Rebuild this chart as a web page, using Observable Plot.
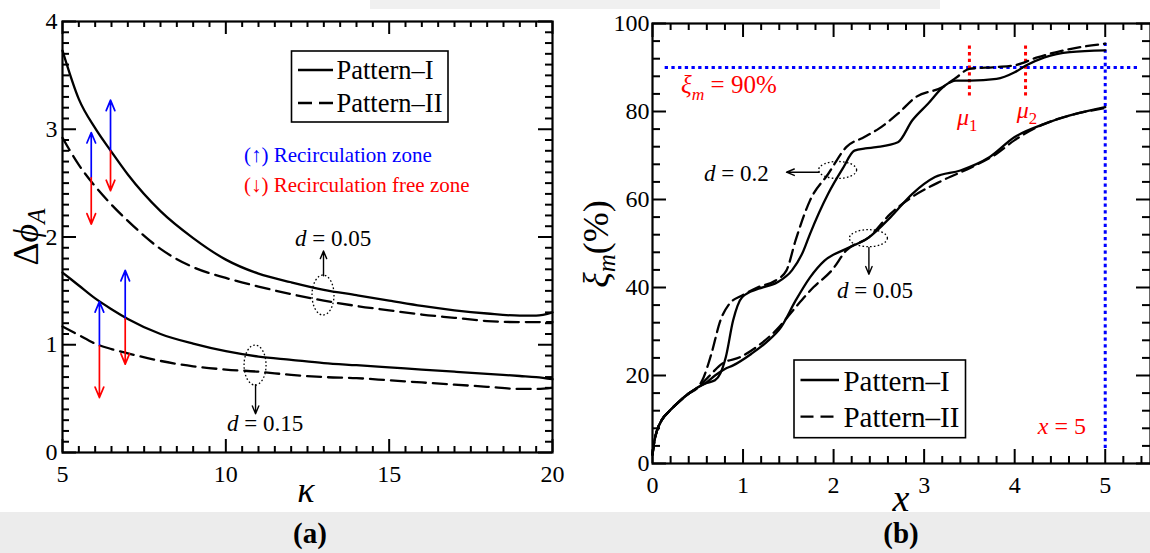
<!DOCTYPE html>
<html>
<head>
<meta charset="utf-8">
<script src="https://cdn.jsdelivr.net/npm/d3@7"></script>
<script src="https://cdn.jsdelivr.net/npm/@observablehq/plot@0.6"></script>
<style>
html,body{margin:0;padding:0;background:#fff}
#page{position:relative;width:1150px;height:553px;overflow:hidden;font-family:"Liberation Serif",serif}
.abs{position:absolute}
#page svg, #page svg text, #page svg tspan{font-family:"Liberation Serif","DejaVu Serif",serif !important}
</style>
</head>
<body>
<div id="page">
  <div class="abs" style="left:0;top:512px;width:1150px;height:41px;background:#ececec"></div>
  <div class="abs" style="left:370px;top:0;width:570px;height:9px;background:#f0f0f0"></div>
  <div id="pa" class="abs" style="left:0;top:0"></div>
  <div id="pb" class="abs" style="left:575px;top:0"></div>
  <svg id="ov" class="abs" style="left:0;top:0" width="1150" height="553"></svg>
</div>
<script>
// ================= Panel (a) data: Δφ_A vs κ =================
const kappa            = [5, 5.5, 6, 6.5, 7, 8, 9, 10, 11, 12, 13, 14, 15, 16, 17, 18, 19, 19.5, 20];
const dphi_d005_patI   = [3.73, 3.28, 3.01, 2.79, 2.58, 2.24, 1.99, 1.79, 1.66, 1.58, 1.51, 1.46, 1.41, 1.36, 1.32, 1.29, 1.27, 1.27, 1.30];
const dphi_d005_patII  = [2.92, 2.67, 2.47, 2.30, 2.15, 1.89, 1.72, 1.62, 1.54, 1.47, 1.41, 1.36, 1.32, 1.28, 1.25, 1.22, 1.21, 1.21, 1.21];
const dphi_d015_patI   = [1.67, 1.55, 1.43, 1.33, 1.24, 1.10, 1.01, 0.94, 0.89, 0.86, 0.83, 0.81, 0.79, 0.77, 0.75, 0.73, 0.71, 0.70, 0.68];
const dphi_d015_patII  = [1.17, 1.09, 1.01, 0.96, 0.92, 0.85, 0.80, 0.77, 0.75, 0.72, 0.70, 0.69, 0.67, 0.65, 0.63, 0.61, 0.59, 0.59, 0.60];
const aTickX = [5, 10, 15, 20];
const aTickY = [0, 1, 2, 3, 4];
// recirculation zone arrows (κ, split value, top of blue, bottom of red)
const zoneK    = [5.88, 6.47, 6.13, 6.92];
const zoneMid  = [2.55, 2.80, 0.99, 1.24];
const zoneUp   = [2.97, 3.27, 1.40, 1.69];
const zoneDown = [2.12, 2.43, 0.51, 0.82];
// callouts (a)
const aEllK = [12.99, 10.91];
const aEllV = [1.457, 0.807];
const aCallFrom = [1.64, 0.63];
const aCallTo   = [1.87, 0.36];
const aLabelK = [12.13, 10.05];
const aLabelV = [1.986, 0.269];
const aLabelD = ["0.05", "0.15"];
const zoneTextK = 10.57;
const zoneTextV = [2.756, 2.478];
const zoneText  = ["(\u2191) Recirculation zone", "(\u2193) Recirculation free zone"];

// ================= Panel (b) data: ξ_m(%) vs x =================
const x_d02_I  = [0, 0.02, 0.05, 0.1, 0.2, 0.3, 0.4, 0.5, 0.6, 0.69, 0.75, 0.81, 0.89, 0.99, 1.17, 1.38, 1.54, 1.66, 1.74, 1.94, 2.1, 2.23, 2.35, 2.47, 2.71, 2.87, 3.04, 3.23, 3.35, 3.51, 3.8, 4.0, 4.13, 4.33, 4.61, 5.0];
const y_d02_I  = [2, 5, 7.5, 9.8, 12.2, 14.2, 15.9, 17.3, 18.3, 18.9, 20.5, 24.2, 32.5, 37.8, 39.7, 41.2, 43.9, 48, 52.2, 61.3, 67, 71.1, 71.6, 71.9, 73.0, 78, 81.7, 85.9, 87.0, 87.0, 87.4, 88.9, 90.5, 92.3, 93.5, 93.9];
const x_d02_II = [0, 0.02, 0.05, 0.1, 0.2, 0.3, 0.4, 0.5, 0.55, 0.65, 0.75, 0.85, 0.99, 1.17, 1.36, 1.48, 1.58, 1.74, 1.94, 2.14, 2.34, 2.5, 2.71, 2.91, 3.2, 3.36, 3.5, 3.8, 4.0, 4.25, 4.61, 5.0];
const y_d02_II = [2, 5, 7.5, 9.8, 12.2, 14.2, 15.9, 17.3, 18.9, 24.9, 32.5, 36.3, 38.2, 40.1, 41.6, 43.9, 50.7, 59.8, 65.8, 71.9, 74.2, 76.1, 79.5, 83.3, 85.5, 87.8, 89.7, 90.1, 90.5, 92.3, 94.2, 95.4];
const x_d005_I  = [0, 0.02, 0.05, 0.1, 0.2, 0.3, 0.4, 0.5, 0.6, 0.69, 0.8, 0.89, 1.09, 1.26, 1.42, 1.58, 1.74, 1.9, 2.14, 2.39, 2.63, 2.87, 3.12, 3.4, 3.72, 4.0, 4.33, 4.61, 5.0];
const y_d005_I  = [2, 5, 7.5, 9.8, 12.2, 14.2, 15.9, 17.3, 18.5, 20.0, 21.5, 22.3, 24.9, 27.6, 31, 37, 42.3, 46.1, 48.8, 51.4, 56, 61.3, 65.1, 66.6, 69.6, 74.2, 77.2, 79.1, 81.0];
const x_d005_II = [0, 0.02, 0.05, 0.1, 0.2, 0.3, 0.4, 0.5, 0.6, 0.77, 0.97, 1.17, 1.38, 1.58, 1.78, 1.98, 2.14, 2.39, 2.63, 2.87, 3.2, 3.52, 3.8, 4.0, 4.33, 4.61, 5.0];
const y_d005_II = [2, 5, 7.5, 9.8, 12.2, 14.2, 15.9, 17.3, 19.3, 22.7, 24.2, 26.8, 30.6, 35.5, 40.1, 43.9, 48.4, 51.4, 56.8, 60.6, 64.3, 67.3, 70.4, 73.5, 77.2, 79.1, 80.8];
const bTickX = [0, 1, 2, 3, 4, 5];
const bTickY = [0, 20, 40, 60, 80, 100];
const xiTarget = 90;          // ξ_m = 90%
const xiLineX = [0.14, 5.36];
const xEnd = 5;               // x = 5
const xEndY = [3.4, 96];
const muX = [3.50, 4.12];
const muY = [83.5, 95.5];
const muLabelX = [3.48, 4.14];
const muLabelY = [78.7, 80.2];
const bEllX = [2.05, 2.39];
const bEllY = [66.6, 51.1];
const bLabelX = [0.574, 2.042];
const bLabelY = [65.9, 39.3];
const bLabelD = ["0.2", "0.05"];

// ================= helpers =================
const FONT = "Liberation Serif, DejaVu Serif, serif";
const rows = (xs, ys, s) => xs.map((x, i) => ({x, y: ys[i], s}));
const fmt = d => String(d);

function ellipses(cx, cy, rx, ry) {
  return (index, scales) => {
    const g = d3.create("svg:g").attr("fill", "none").attr("stroke", "black")
      .attr("stroke-width", 1.3).attr("stroke-dasharray", "1.6,2.2");
    cx.forEach((x, i) => g.append("ellipse").attr("cx", scales.x(x)).attr("cy", scales.y(cy[i])).attr("rx", rx).attr("ry", ry));
    return g.node();
  };
}
// rich text: parts = [{t, i (italic), sub}]
function richText(items) {
  return (index, scales) => {
    const g = d3.create("svg:g").attr("font-family", FONT);
    for (const it of items) {
      const t = g.append("text").attr("x", scales.x(it.x)).attr("y", scales.y(it.y))
        .attr("dy", "0.33em").attr("fill", it.fill || "black").attr("font-size", it.size)
        .attr("text-anchor", it.anchor || "start");
      let shifted = 0;
      for (const p of it.parts) {
        const s = t.append("tspan").text(p.t);
        if (p.i) s.attr("font-style", "italic");
        if (p.sub) { s.attr("font-size", it.size * 0.7).attr("dy", it.size * 0.25); shifted = it.size * 0.25; }
        else if (shifted) { s.attr("dy", -shifted); shifted = 0; }
      }
    }
    return g.node();
  };
}
function ticks(majX, minX, majY, minY, IW, IH, L) {
  const sw = 2;
  return [
    Plot.tickX(minX, {x: d => d, insetTop: IH - L.minX, strokeWidth: sw}),
    Plot.tickX(minX, {x: d => d, insetBottom: IH - L.minX, strokeWidth: sw}),
    Plot.tickX(majX, {x: d => d, insetTop: IH - L.majX, strokeWidth: sw}),
    Plot.tickX(majX, {x: d => d, insetBottom: IH - L.majX, strokeWidth: sw}),
    Plot.tickY(minY, {y: d => d, insetRight: IW - L.minY, strokeWidth: sw}),
    Plot.tickY(minY, {y: d => d, insetLeft: IW - L.minY, strokeWidth: sw}),
    Plot.tickY(majY, {y: d => d, insetRight: IW - L.majY, strokeWidth: sw}),
    Plot.tickY(majY, {y: d => d, insetLeft: IW - L.majY, strokeWidth: sw})
  ];
}

// ================= Panel (a) =================
{
  const W = 575, H = 500, mL = 62, mR = 23, mT = 21, mB = 48;
  const IW = W - mL - mR, IH = H - mT - mB;
  const solid = [...rows(kappa, dphi_d005_patI, "d005"), ...rows(kappa, dphi_d015_patI, "d015")];
  const dashed = [...rows(kappa, dphi_d005_patII, "d005"), ...rows(kappa, dphi_d015_patII, "d015")];
  const minX = d3.range(11, 40).filter(i => i % 10).map(i => i / 2);
  const minY = d3.range(1, 40).filter(i => i % 10).map(i => i / 10);
  const idx = zoneK.map((_, i) => i);
  const cidx = aEllK.map((_, i) => i);
  const p = Plot.plot({
    width: W, height: H, marginLeft: mL, marginRight: mR, marginTop: mT, marginBottom: mB,
    style: {fontFamily: FONT, fontSize: "24px", background: "transparent", color: "black", overflow: "visible"},
    x: {domain: [5, 20]},
    y: {domain: [0, 4]},
    marks: [
      Plot.line(solid, {x: "x", y: "y", z: "s", stroke: "black", strokeWidth: 2.3, curve: "monotone-x"}),
      Plot.line(dashed, {x: "x", y: "y", z: "s", stroke: "black", strokeWidth: 2.3, strokeDasharray: "14,7", curve: "monotone-x"}),
      Plot.arrow(idx, {x: i => zoneK[i], y1: i => zoneMid[i], y2: i => zoneUp[i], stroke: "#0000ff", strokeWidth: 1.7, headLength: 10, headAngle: 45}),
      Plot.arrow(idx, {x: i => zoneK[i], y1: i => zoneMid[i], y2: i => zoneDown[i], stroke: "#ff0000", strokeWidth: 1.7, headLength: 10, headAngle: 45}),
      ellipses(aEllK, aEllV, 11, 20),
      Plot.arrow(cidx, {x: i => aEllK[i], y1: i => aCallFrom[i], y2: i => aCallTo[i], stroke: "black", strokeWidth: 1.4, headLength: 9, headAngle: 45}),
      richText(aLabelK.map((k, i) => ({x: k, y: aLabelV[i], size: 23, parts: [{t: "d", i: true}, {t: " = " + aLabelD[i]}]}))),
      richText(zoneTextV.map((v, i) => ({x: zoneTextK, y: v, size: 21, fill: i ? "#ff0000" : "#0000ff", parts: [{t: zoneText[i]}]}))),
      ...ticks(aTickX, minX, aTickY, minY, IW, IH, {minX: 6, majX: 13, minY: 7, majY: 14}),
      Plot.axisX({ticks: aTickX, tickFormat: fmt, tickSize: 0, tickPadding: 12, fontSize: 24, fontFamily: FONT, label: null}),
      Plot.axisY({ticks: aTickY, tickFormat: fmt, tickSize: 0, tickPadding: 5, fontSize: 24, fontFamily: FONT, label: null}),
      Plot.frame({stroke: "black", strokeWidth: 2.2})
    ]
  });
  document.getElementById("pa").appendChild(p);
}

// ================= Panel (b) =================
{
  const W = 575, H = 500, mL = 77, mR = 0, mT = 23, mB = 37;
  const IW = W - mL - mR, IH = H - mT - mB;
  const solid = [...rows(x_d02_I, y_d02_I, "d02"), ...rows(x_d005_I, y_d005_I, "d005")];
  const dashed = [...rows(x_d02_II, y_d02_II, "d02"), ...rows(x_d005_II, y_d005_II, "d005")];
  const minX = d3.range(1, 28).filter(i => i % 5).map(i => i / 5);
  const minY = d3.range(4, 100, 4).filter(v => v % 20);
  const p = Plot.plot({
    width: W, height: H, marginLeft: mL, marginRight: mR, marginTop: mT, marginBottom: mB,
    style: {fontFamily: FONT, fontSize: "24px", background: "transparent", color: "black", overflow: "visible"},
    x: {domain: [0, 5.5]},
    y: {domain: [0, 100]},
    marks: [
      Plot.ruleY([xiTarget], {x1: xiLineX[0], x2: xiLineX[1], stroke: "#0000ff", strokeWidth: 3, strokeDasharray: "3.3,3.4"}),
      Plot.ruleX([xEnd], {y1: xEndY[0], y2: xEndY[1], stroke: "#0000ff", strokeWidth: 3, strokeDasharray: "3.3,3.4"}),
      Plot.ruleX(muX, {y1: muY[0], y2: muY[1], stroke: "#ff0000", strokeWidth: 3, strokeDasharray: "3.3,3.4"}),
      Plot.line(solid, {x: "x", y: "y", z: "s", stroke: "black", strokeWidth: 2.3, curve: "monotone-x"}),
      Plot.line(dashed, {x: "x", y: "y", z: "s", stroke: "black", strokeWidth: 2.3, strokeDasharray: "12,6", curve: "monotone-x"}),
      ellipses(bEllX, bEllY, 19, 8.5),
      Plot.arrow([0], {x1: 1.84, x2: 1.48, y: 66.2, stroke: "black", strokeWidth: 1.4, headLength: 9, headAngle: 45}),
      Plot.arrow([0], {x: bEllX[1], y1: 49.1, y2: 43.0, stroke: "black", strokeWidth: 1.4, headLength: 9, headAngle: 45}),
      richText(bLabelX.map((x, i) => ({x, y: bLabelY[i], size: 23, parts: [{t: "d", i: true}, {t: " = " + bLabelD[i]}]}))),
      richText([{x: 0.32, y: 85.9, size: 25, fill: "#ff0000", parts: [{t: "\u03be", i: true}, {t: "m", i: true, sub: true}, {t: " = 90%"}]}]),
      richText(muLabelX.map((x, i) => ({x, y: muLabelY[i], size: 24, anchor: "middle", fill: "#ff0000", parts: [{t: "\u03bc", i: true}, {t: String(i + 1), sub: true}]}))),
      richText([{x: 4.26, y: 8.4, size: 24, fill: "#ff0000", parts: [{t: "x", i: true}, {t: " = 5"}]}]),
      ...ticks(bTickX, minX, bTickY, minY, IW, IH, {minX: 7, majX: 14, minY: 8, majY: 14}),
      Plot.axisX({ticks: bTickX, tickFormat: fmt, tickSize: 0, tickPadding: 12, fontSize: 24, fontFamily: FONT, label: null}),
      Plot.axisY({ticks: bTickY, tickFormat: fmt, tickSize: 0, tickPadding: 3, fontSize: 24, fontFamily: FONT, label: null}),
      Plot.frame({stroke: "black", strokeWidth: 2.2})
    ]
  });
  document.getElementById("pb").appendChild(p);
}

// ================= Overlay: axis titles, legends, panel labels =================
{
  const ov = d3.select("#ov").attr("font-family", FONT);
  // axis titles
  ov.append("text").attr("x", 306).attr("y", 502).attr("text-anchor", "middle").attr("font-size", 36).attr("font-style", "italic").text("\u03ba");
  ov.append("text").attr("x", 901).attr("y", 511).attr("text-anchor", "middle").attr("font-size", 38).attr("font-style", "italic").text("x");
  const ya = ov.append("text").attr("transform", "translate(38,237) rotate(-90)").attr("text-anchor", "middle").attr("font-size", 36);
  ya.append("tspan").text("\u0394");
  ya.append("tspan").attr("font-style", "italic").text("\u03d5");
  ya.append("tspan").attr("font-style", "italic").attr("font-size", 25).attr("dy", 7).text("A");
  const yb = ov.append("text").attr("transform", "translate(608,244) rotate(-90)").attr("text-anchor", "middle").attr("font-size", 36);
  yb.append("tspan").attr("font-style", "italic").text("\u03be");
  yb.append("tspan").attr("font-style", "italic").attr("font-size", 25).attr("dy", 7).text("m");
  yb.append("tspan").attr("dy", -7).text("(%)");
  // legends
  function legend(x, y, w, h, sx1, sx2, tx, rowsY, size, dash) {
    ov.append("rect").attr("x", x).attr("y", y).attr("width", w).attr("height", h).attr("fill", "white").attr("stroke", "black").attr("stroke-width", 1.6);
    ["Pattern\u2013I", "Pattern\u2013II"].forEach((lab, i) => {
      ov.append("line").attr("x1", sx1).attr("x2", sx2).attr("y1", rowsY[i][0]).attr("y2", rowsY[i][0]).attr("stroke", "black").attr("stroke-width", 2.3).attr("stroke-dasharray", i ? dash : null);
      ov.append("text").attr("x", tx).attr("y", rowsY[i][1]).attr("font-size", size).text(lab);
    });
  }
  legend(291.5, 51, 156.5, 71, 298, 333, 336.5, [[70, 78.5], [103, 111.5]], 26.5, "14,7");
  legend(794, 360, 171.5, 77.7, 800.5, 839, 843.4, [[380, 391], [416.7, 427]], 29, "13,7");
  // panel labels
  ov.append("text").attr("x", 310).attr("y", 543).attr("text-anchor", "middle").attr("font-size", 29).attr("font-weight", "bold").text("(a)");
  ov.append("text").attr("x", 901).attr("y", 543).attr("text-anchor", "middle").attr("font-size", 29).attr("font-weight", "bold").text("(b)");
}
</script>
</body>
</html>
